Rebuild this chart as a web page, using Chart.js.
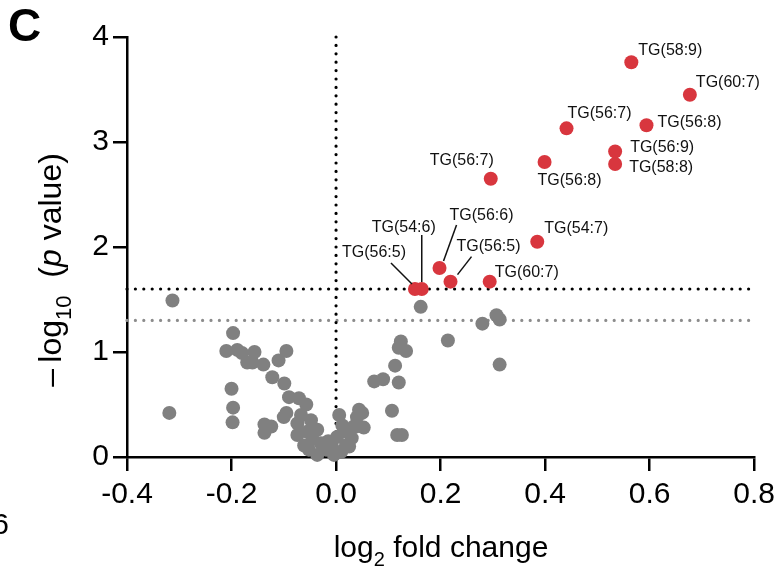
<!DOCTYPE html>
<html>
<head>
<meta charset="utf-8">
<script src="https://cdn.jsdelivr.net/npm/chart.js@4.4.1/dist/chart.umd.min.js"></script>
<style>
  html, body { margin: 0; padding: 0; background: #fff; }
  canvas { display: block; }
</style>
</head>
<body>
<canvas id="volcano" width="781" height="569"></canvas>
<script>
// significant lipids (red)
const sigLabels = ['TG(58:9)', 'TG(60:7)', 'TG(56:7)', 'TG(56:8)', 'TG(56:9)', 'TG(58:8)', 'TG(56:8)',
  'TG(56:7)', 'TG(54:7)', 'TG(56:6)', 'TG(56:5)', 'TG(60:7)', 'TG(54:6)', 'TG(56:5)'];
const sigFold = [0.565, 0.677, 0.441, 0.594, 0.534, 0.534, 0.399, 0.296, 0.385, 0.198, 0.219, 0.294, 0.164, 0.151];
const sigLogP = [3.76, 3.45, 3.13, 3.16, 2.91, 2.79, 2.81, 2.65, 2.05, 1.80, 1.67, 1.67, 1.60, 1.60];

// everything else (grey)
const nsFold = [-0.313, -0.319, -0.197, -0.21, -0.189, -0.18, -0.17, -0.2, -0.197, -0.198,
  -0.156, -0.16, -0.139, -0.095, -0.11, -0.122, -0.099, -0.09, -0.071, -0.057,
  -0.095, -0.1, -0.137, -0.124, -0.137, -0.074, -0.048, -0.074, -0.055, -0.036,
  -0.061, -0.052, -0.029, -0.036, -0.019, -0.008, -0.004, 0.006, 0.002, 0.019,
  0.019, 0.038, 0.044, 0.162, 0.214, 0.28, 0.307, 0.313, 0.313, 0.124,
  0.12, 0.134, 0.113, 0.073, 0.09, 0.12, 0.107, 0.117, 0.126, 0.05,
  0.04, 0.034, 0.053, 0.025, 0.01, -0.015, 0.03, -0.045, 0.012, -0.067];
const nsLogP = [1.49, 0.42, 1.18, 1.01, 1.02, 0.99, 0.90, 0.65, 0.47, 0.33,
  1.00, 0.90, 0.88, 1.01, 0.92, 0.76, 0.70, 0.57, 0.56, 0.50,
  0.42, 0.38, 0.31, 0.29, 0.23, 0.32, 0.35, 0.21, 0.24, 0.26,
  0.11, 0.07, 0.13, 0.02, 0.07, 0.10, 0.02, 0.40, 0.19, 0.24,
  0.11, 0.29, 0.45, 1.43, 1.11, 1.27, 1.35, 1.31, 0.88, 1.10,
  1.04, 1.01, 0.87, 0.72, 0.74, 0.71, 0.44, 0.21, 0.21, 0.42,
  0.38, 0.29, 0.28, 0.10, 0.05, 0.15, 0.18, 0.17, 0.30, 0.40];

const xTicks = [-0.4, -0.2, 0.0, 0.2, 0.4, 0.6, 0.8];
const yTicks = [0, 1, 2, 3, 4];
const strictCut = 1.6;   // black dotted
const p05Cut = 1.301;    // grey dotted, p = 0.05

const FONT = "'Liberation Sans', Arial, Helvetica, sans-serif";

// label placement relative to each red point: [dx, dy, leader line or null]
const labelPos = [
  [7, -12], [6, -12], [1, -15], [11, -3], [15, -4], [14, 4], [-7, 19],
  [-61, -18], [7, -13],
  [10, -52, [4, -7, 17, -43]],
  [6, -35, [7, -7, 21, -25]],
  [5, -9],
  [-50, -61, [0, -7, 0, -54]],
  [-73, -36, [-3, -5, -24, -26]]
];

function dotted(ctx, x1, y1, x2, y2, color) {
  ctx.save();
  ctx.strokeStyle = color;
  ctx.lineWidth = 3.2;
  ctx.lineCap = 'round';
  ctx.setLineDash([0, 8.4]);
  ctx.beginPath();
  ctx.moveTo(x1, y1);
  ctx.lineTo(x2, y2);
  ctx.stroke();
  ctx.restore();
}

function drawRuns(ctx, runs, x, y) {
  // runs: [text, font, dy]
  let cx = x;
  runs.forEach(r => {
    ctx.font = r[1];
    ctx.fillText(r[0], cx, y + r[2]);
    cx += ctx.measureText(r[0]).width;
  });
}
function runsWidth(ctx, runs) {
  let w = 0;
  runs.forEach(r => { ctx.font = r[1]; w += ctx.measureText(r[0]).width; });
  return w;
}

const decor = {
  id: 'decor',
  beforeDatasetsDraw(chart) {
    const ctx = chart.ctx, xs = chart.scales.x, ys = chart.scales.y;
    const l = xs.getPixelForValue(-0.4), r = xs.getPixelForValue(0.8);
    dotted(ctx, l, ys.getPixelForValue(p05Cut), r, ys.getPixelForValue(p05Cut), '#8c8c8c');
    dotted(ctx, l, ys.getPixelForValue(strictCut), r, ys.getPixelForValue(strictCut), '#000');
    const x0 = xs.getPixelForValue(0);
    dotted(ctx, x0, ys.getPixelForValue(4), x0, ys.getPixelForValue(0), '#000');
  },
  afterDatasetsDraw(chart) {
    const ctx = chart.ctx, xs = chart.scales.x, ys = chart.scales.y;
    ctx.save();
    ctx.font = '16px ' + FONT;
    ctx.fillStyle = '#111';
    ctx.strokeStyle = '#111';
    ctx.lineWidth = 1.5;
    ctx.textBaseline = 'middle';
    ctx.textAlign = 'left';
    sigLabels.forEach((lab, i) => {
      const px = xs.getPixelForValue(sigFold[i]);
      const py = ys.getPixelForValue(sigLogP[i]);
      const p = labelPos[i];
      ctx.fillText(lab, px + p[0], py + p[1]);
      if (p[2]) {
        ctx.beginPath();
        ctx.moveTo(px + p[2][0], py + p[2][1]);
        ctx.lineTo(px + p[2][2], py + p[2][3]);
        ctx.stroke();
      }
    });
    ctx.restore();
  },
  afterDraw(chart) {
    const ctx = chart.ctx;
    ctx.save();
    ctx.fillStyle = '#000';
    ctx.textBaseline = 'alphabetic';
    const big = '30px ' + FONT, small = '20px ' + FONT;

    // x title
    const xr = [['log', big, 0], ['2', small, 9], [' fold change', big, 0]];
    drawRuns(ctx, xr, 441 - runsWidth(ctx, xr) / 2, 557);

    // y title
    const yb = '32px ' + FONT, ys = '22px ' + FONT;
    const yr = [['\u2013\u2009log', yb, 0], ['10', ys, 10], ['  (', yb, 0],
      ['p', 'italic 32px ' + FONT, 0], [' value)', yb, 0]];
    ctx.translate(61, 270);
    ctx.rotate(-Math.PI / 2);
    drawRuns(ctx, yr, -runsWidth(ctx, yr) / 2, 0);
    ctx.restore();

    ctx.save();
    ctx.fillStyle = '#000';
    ctx.font = 'bold 46px ' + FONT;
    ctx.fillText('C', 8, 41);
    ctx.font = '30px ' + FONT;
    ctx.textAlign = 'right';
    ctx.fillText('6', 9, 534);
    ctx.restore();
  }
};

const axisCommon = {
  type: 'linear',
  grid: { display: true, drawOnChartArea: false, drawTicks: true, tickLength: 14, color: '#000', lineWidth: 2.5 },
  border: { display: true, color: '#000', width: 2.5 },
};

new Chart(document.getElementById('volcano'), {
  type: 'scatter',
  data: {
    datasets: [
      {
        data: nsFold.map((v, i) => ({ x: v, y: nsLogP[i] })),
        backgroundColor: '#808080',
        borderWidth: 0,
        pointRadius: 7,
        clip: false
      },
      {
        data: sigFold.map((v, i) => ({ x: v, y: sigLogP[i] })),
        backgroundColor: '#d8363e',
        borderWidth: 0,
        pointRadius: 7,
        clip: false
      }
    ]
  },
  options: {
    responsive: false,
    animation: false,
    devicePixelRatio: 1,
    layout: { padding: { top: 37, right: 25, left: 0, bottom: 0 } },
    plugins: { legend: { display: false }, tooltip: { enabled: false } },
    scales: {
      x: {
        ...axisCommon,
        min: -0.4, max: 0.8,
        afterBuildTicks: s => { s.ticks = xTicks.map(v => ({ value: v })); },
        afterFit: s => { s.height = 112; },
        ticks: { color: '#000', font: { size: 30, family: FONT }, padding: 6, maxRotation: 0, autoSkip: false,
          callback: v => v.toFixed(1) }
      },
      y: {
        ...axisCommon,
        min: 0, max: 4,
        afterBuildTicks: s => { s.ticks = yTicks.map(v => ({ value: v })); },
        afterFit: s => { s.width = 127; },
        ticks: { color: '#000', font: { size: 30, family: FONT }, padding: 4, autoSkip: false,
          callback: v => String(v) }
      }
    }
  },
  plugins: [decor]
});
</script>
</body>
</html>
